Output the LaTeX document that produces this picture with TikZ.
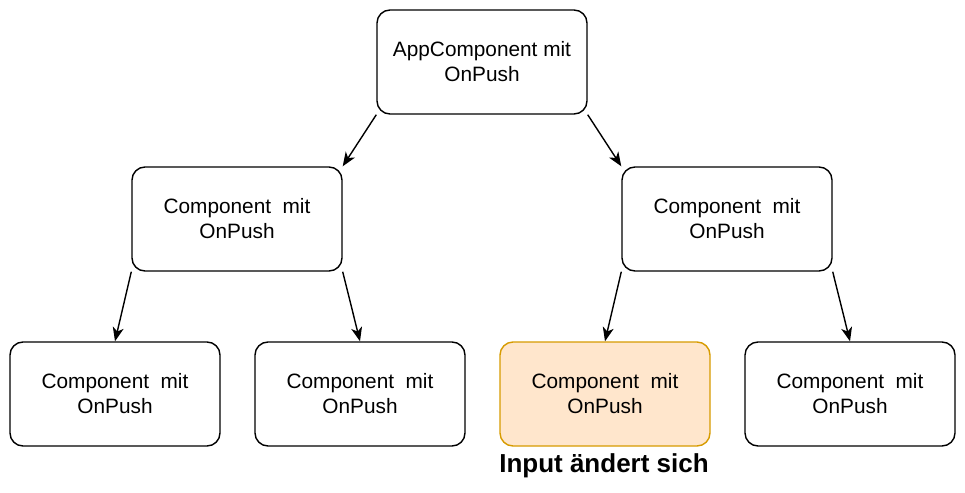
\documentclass[tikz,border=0pt]{standalone}
\usepackage{fontspec}
\setmainfont{Liberation Sans}
\usetikzlibrary{arrows.meta}
\definecolor{hlfill}{HTML}{FFE6CC}
\definecolor{hldraw}{HTML}{D79B00}
\begin{document}
\begin{tikzpicture}[x=1pt,y=-1pt,
  comp/.style={draw=black, line width=1.4pt, rounded corners=13pt, minimum width=210pt, minimum height=104pt, align=center, font=\fontsize{20.8}{25}\selectfont, inner sep=0pt},
  hl/.style={comp, draw=hldraw, fill=hlfill},
  conn/.style={-{Stealth[length=14pt,width=11pt,inset=4pt]}, line width=1.4pt}]
\useasboundingbox (0,0) rectangle (965,492);
\node[comp] (top) at (482,62) {AppComponent mit\\OnPush};
\node[comp] (ml) at (237,219) {Component\ \ mit\\OnPush};
\node[comp] (mr) at (727,219) {Component\ \ mit\\OnPush};
\node[comp] (b1) at (115,394) {Component\ \ mit\\OnPush};
\node[comp] (b2) at (360,394) {Component\ \ mit\\OnPush};
\node[hl] (b3) at (605,394) {Component\ \ mit\\OnPush};
\node[comp] (b4) at (850,394) {Component\ \ mit\\OnPush};
\node[font=\bfseries\fontsize{26}{30}\selectfont] (lbl) at (604,466) {Input ändert sich};
\draw[conn] (top.south west) -- (ml.north east);
\draw[conn] (top.south east) -- (mr.north west);
\draw[conn] (ml.south west) -- (b1.north);
\draw[conn] (ml.south east) -- (b2.north);
\draw[conn] (mr.south west) -- (b3.north);
\draw[conn] (mr.south east) -- (b4.north);
\end{tikzpicture}
\end{document}
